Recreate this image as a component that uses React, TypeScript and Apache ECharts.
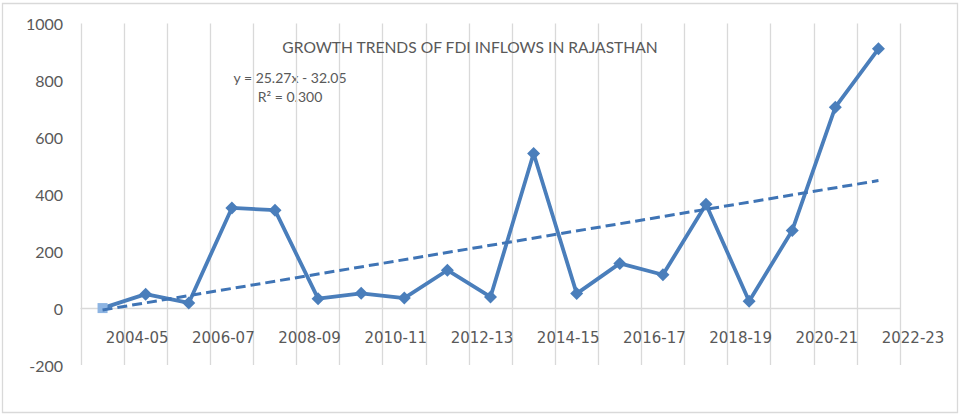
import React, { useEffect, useRef } from "react";
import * as echarts from "echarts";

const categories = [
  "2003-04", "2004-05", "2005-06", "2006-07", "2007-08", "2008-09", "2009-10",
  "2010-11", "2011-12", "2012-13", "2013-14", "2014-15", "2015-16", "2016-17",
  "2017-18", "2018-19", "2019-20", "2020-21", "2021-22",
];
const labelCategories = [...categories, "2022-23"];
const fdiValues = [0, 49, 18, 352, 344, 33, 52, 35, 133, 39, 543, 51, 157, 117, 365, 24, 273, 706, 911];
const yTicks = { min: -200, max: 1000, interval: 200 };
const trendSlope = 25.27;
const trendIntercept = -32.05;
const titleText = "GROWTH TRENDS OF FDI INFLOWS IN RAJASTHAN";
const equationText = "y = 25.27x - 32.05";
const r2Text = "R² = 0.300";

const GRID = "#d9d9d9";
const TEXT = "#595959";
const LINE = "#4a7ebb";
const FONT = "Lato, 'Open Sans', sans-serif";

export default function App() {
  const ref = useRef<HTMLDivElement>(null);
  useEffect(() => {
    if (!ref.current) return;
    const chart = echarts.init(ref.current, undefined, { renderer: "svg" });
    const n = categories.length;
    const trendStart = trendSlope * 1 + trendIntercept;
    const trendEnd = trendSlope * n + trendIntercept;
    chart.setOption({
      animation: false,
      backgroundColor: "#ffffff",
      title: {
        text: titleText,
        left: 465,
        top: 34,
        textAlign: "center",
        textStyle: { fontFamily: FONT, fontSize: 15.6, fontWeight: "normal", color: TEXT },
      },
      grid: [
        { left: 81, right: 60, top: 23.5, bottom: 50 },
        { left: 81, right: 16.9, top: 23.5, bottom: 107.3 },
      ],
      xAxis: [
        {
          type: "category",
          gridIndex: 0,
          data: categories,
          boundaryGap: true,
          axisLine: { show: true, onZero: true, lineStyle: { color: GRID, width: 1.3 } },
          axisTick: { show: false },
          axisLabel: { show: false },
          splitLine: { show: true, interval: 0, lineStyle: { color: GRID, width: 1.3 } },
        },
        {
          type: "category",
          gridIndex: 1,
          data: labelCategories,
          boundaryGap: true,
          position: "bottom",
          axisLine: { show: false, onZero: false },
          axisTick: { show: false },
          splitLine: { show: false },
          axisLabel: {
            interval: (i: number) => i % 2 === 1,
            margin: 23,
            padding: [0, 17, 0, 0],
            fontFamily: "'DejaVu Sans', sans-serif",
            fontSize: 15,
            color: TEXT,
          },
        },
      ],
      yAxis: [
        {
          type: "value",
          gridIndex: 0,
          min: yTicks.min,
          max: yTicks.max,
          interval: yTicks.interval,
          axisLine: { show: false },
          axisTick: { show: false },
          splitLine: { show: false },
          axisLabel: {
            fontFamily: FONT,
            fontSize: 16,
            color: TEXT,
            margin: 18,
            formatter: (v: number) => String(v),
          },
        },
        {
          type: "value",
          gridIndex: 1,
          show: false,
          splitLine: { show: false },
        },
      ],
      series: [
        {
          type: "line",
          xAxisIndex: 0,
          yAxisIndex: 0,
          data: fdiValues.map((v, i) =>
            i === 0
              ? { value: v, symbol: "rect", symbolSize: 10, itemStyle: { color: "#8db4e2" } }
              : { value: v }
          ),
          symbol: "diamond",
          symbolSize: 13,
          lineStyle: { color: LINE, width: 3.8 },
          itemStyle: { color: LINE },
          z: 2,
          markLine: {
            silent: true,
            symbol: "none",
            label: { show: false },
            lineStyle: { color: "#3f74b5", width: 3, type: [10, 5] },
            data: [[
              { coord: [categories[0], trendStart] },
              { coord: [categories[n - 1], trendEnd] },
            ]],
            z: 3,
          },
        },
      ],
      graphic: [
        {
          type: "rect",
          shape: { x: 2.5, y: 3.5, width: 955, height: 409 },
          style: { fill: "none", stroke: GRID, lineWidth: 1.3 },
          silent: true,
        },
        {
          type: "text",
          x: 290,
          y: 77,
          style: { text: equationText, fontFamily: FONT, fontSize: 14, fill: TEXT, textAlign: "center", textVerticalAlign: "middle" },
        },
        {
          type: "text",
          x: 290,
          y: 96,
          style: { text: r2Text, fontFamily: FONT, fontSize: 14, fill: TEXT, textAlign: "center", textVerticalAlign: "middle" },
        },
      ],
    });
    return () => chart.dispose();
  }, []);
  return (
    <div
      ref={ref}
      style={{ position: "absolute", left: 0, top: 0, width: 960, height: 415 }}
    />
  );
}
